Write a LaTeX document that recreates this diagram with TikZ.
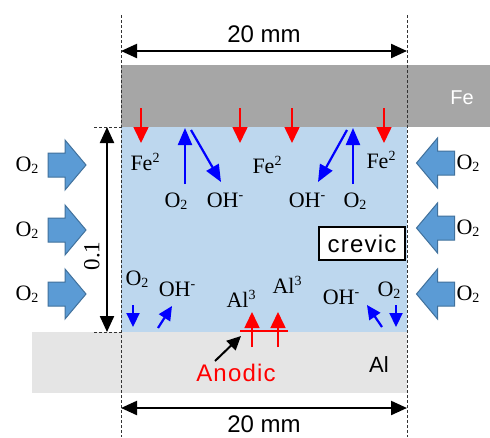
\documentclass[tikz,border=0pt]{standalone}
\usepackage{fontspec}
\setmainfont{Liberation Serif}
\setsansfont{Liberation Sans}
\newfontfamily\widesans[LetterSpace=5]{Liberation Sans}
\usetikzlibrary{arrows.meta}
\definecolor{arrowfill}{HTML}{5B9BD5}
\definecolor{arrowedge}{HTML}{41719C}
\definecolor{crevfill}{HTML}{BDD7EE}
\definecolor{fegray}{HTML}{A6A6A6}
\definecolor{algray}{HTML}{E5E5E5}
\newcommand{\lsub}[1]{\raisebox{-1.5pt}{\fontsize{14}{14}\selectfont #1}}
\newcommand{\lsup}[1]{\raisebox{7.5pt}{\fontsize{14}{14}\selectfont #1}}
\begin{document}
\begin{tikzpicture}[x=1pt,y=-1pt,
  ser/.style={font=\fontsize{22}{24}\selectfont, inner sep=0pt},
  san/.style={font=\sffamily\fontsize{24}{26}\selectfont, inner sep=0pt},
  dimline/.style={line width=2.2pt, {Triangle[length=16pt,width=14pt]}-{Triangle[length=16pt,width=14pt]}},
  guide/.style={dash pattern=on 3pt off 2pt, line width=0.8pt, black!80},
  redar/.style={red, line width=1.6pt, -{Triangle[length=16pt,width=15pt]}},
  bluar/.style={blue, line width=2.2pt, -{Triangle[length=17pt,width=14pt]}},
  smallbl/.style={blue, line width=2.2pt, -{Triangle[length=14pt,width=13pt]}},
  o2shape/.style={draw=arrowedge, fill=arrowfill, line width=1pt, line join=miter},
  pics/o2arr/.style={code={\draw[o2shape] (-19,-12) -- (-2,-12) -- (-2,-25) -- (19,0) -- (-2,25) -- (-2,12) -- (-19,12) -- cycle;}}
]
\useasboundingbox[fill=white] (0,0) rectangle (490,437);
% regions
\fill[fegray] (121,65) rectangle (490,127);
\fill[crevfill] (121,127) rectangle (407,332);
\fill[algray] (32,332) rectangle (407,393);
\node[san, text=white, font=\sffamily\fontsize{20}{22}\selectfont] (fe) at (462,98) {Fe};
\node[san, font=\sffamily\fontsize{22}{24}\selectfont] (al) at (379,365) {Al};
% guides
\coordinate (gLt) at (121,15); \coordinate (gLb) at (121,437);
\coordinate (gRt) at (407,15); \coordinate (gRb) at (407,437);
\draw[guide] (gLt) -- (gLb);
\draw[guide] (gRt) -- (gRb);
% top and bottom dimensions
\coordinate (dTl) at (121,51); \coordinate (dTr) at (407,51);
\draw[dimline] (dTl) -- (dTr);
\node[san] (topdim) at (264,34) {20 mm};
\coordinate (dBl) at (121,408); \coordinate (dBr) at (407,408);
\draw[dimline] (dBl) -- (dBr);
\node[san] (botdim) at (264,424) {20 mm};
% vertical dimension
\coordinate (tk1a) at (94,127); \coordinate (tk1b) at (121,127);
\coordinate (tk2a) at (94,332); \coordinate (tk2b) at (121,332);
\draw[guide] (tk1a) -- (tk1b);
\draw[guide] (tk2a) -- (tk2b);
\coordinate (dVt) at (107,127); \coordinate (dVb) at (107,332);
\draw[dimline] (dVt) -- (dVb);
\node[ser, rotate=90, font=\fontsize{23}{25}\selectfont] (thick) at (92,256) {0.1};
% O2 supply arrows
\foreach \y/\n in {165/1,230/2,294/3}{
  \pic at (67,\y) {o2arr};
  \node[ser] (oL\n) at (27,\y) {O\lsub{2}};
}
\foreach \y/\n in {163/1,228/2,294/3}{
  \pic[xscale=-1] at (435.5,\y) {o2arr};
  \node[ser] (oR\n) at (468,\y) {O\lsub{2}};
}
% Fe dissolution arrows
\foreach \x/\n in {141/1,240/2,292/3,384/4}{
  \coordinate (rs\n) at (\x,108); \coordinate (re\n) at (\x,143);
  \draw[redar] (rs\n) -- (re\n);
}
\node[ser] (fe1) at (145,162) {Fe\lsup{2}};
\node[ser] (fe2) at (267,165) {Fe\lsup{2}};
\node[ser] (fe3) at (381,160) {Fe\lsup{2}};
% cathodic at Fe
\node[ser] (o2a) at (176,201) {O\lsub{2}};
\node[ser] (oha) at (225,200) {OH\lsup{-}};
\node[ser] (ohb) at (307,200) {OH\lsup{-}};
\node[ser] (o2b) at (355,201) {O\lsub{2}};
\coordinate (ua1) at (185,184); \coordinate (ua2) at (185,128);
\draw[bluar] (ua1) -- (ua2);
\coordinate (da1) at (191,130); \coordinate (da2) at (221,182);
\draw[bluar] (da1) -- (da2);
\coordinate (ub1) at (353,184); \coordinate (ub2) at (353,128);
\draw[bluar] (ub1) -- (ub2);
\coordinate (db1) at (347,130); \coordinate (db2) at (318,182);
\draw[bluar] (db1) -- (db2);
% crevic label
\node[san, font=\widesans\fontsize{24}{26}\selectfont, draw, line width=2pt, fill=white, minimum width=86pt, minimum height=33pt] (crev) at (362,243.5) {crevic};
% cathodic at Al
\node[ser] (o2c) at (137,279) {O\lsub{2}};
\node[ser] (ohc) at (177,289) {OH\lsup{-}};
\node[ser] (ohd) at (341,297) {OH\lsup{-}};
\node[ser] (o2d) at (389,290) {O\lsub{2}};
\coordinate (sc1) at (133,305); \coordinate (sc2) at (133,327);
\draw[smallbl] (sc1) -- (sc2);
\coordinate (sd1) at (158,328); \coordinate (sd2) at (172,306);
\draw[smallbl] (sd1) -- (sd2);
\coordinate (se1) at (382,327); \coordinate (se2) at (367,305);
\draw[smallbl] (se1) -- (se2);
\coordinate (sf1) at (396,305); \coordinate (sf2) at (396,327);
\draw[smallbl] (sf1) -- (sf2);
% anodic at Al
\node[ser] (al1) at (241,299) {Al\lsup{3}};
\node[ser] (al2) at (287,285) {Al\lsup{3}};
\coordinate (hl1) at (240,331); \coordinate (hl2) at (288,331);
\draw[red, line width=1.6pt] (hl1) -- (hl2);
\coordinate (aa1) at (252,347); \coordinate (aa2) at (252,312);
\draw[redar] (aa1) -- (aa2);
\coordinate (ab1) at (278,347); \coordinate (ab2) at (278,312);
\draw[redar] (ab1) -- (ab2);
\node[san, font=\widesans\fontsize{24}{26}\selectfont, text=red] (anod) at (236,373) {Anodic};
\coordinate (pa1) at (215,361); \coordinate (pa2) at (241,336);
\draw[line width=2pt, -{Triangle[length=14pt,width=13pt]}] (pa1) -- (pa2);
\end{tikzpicture}
\end{document}
